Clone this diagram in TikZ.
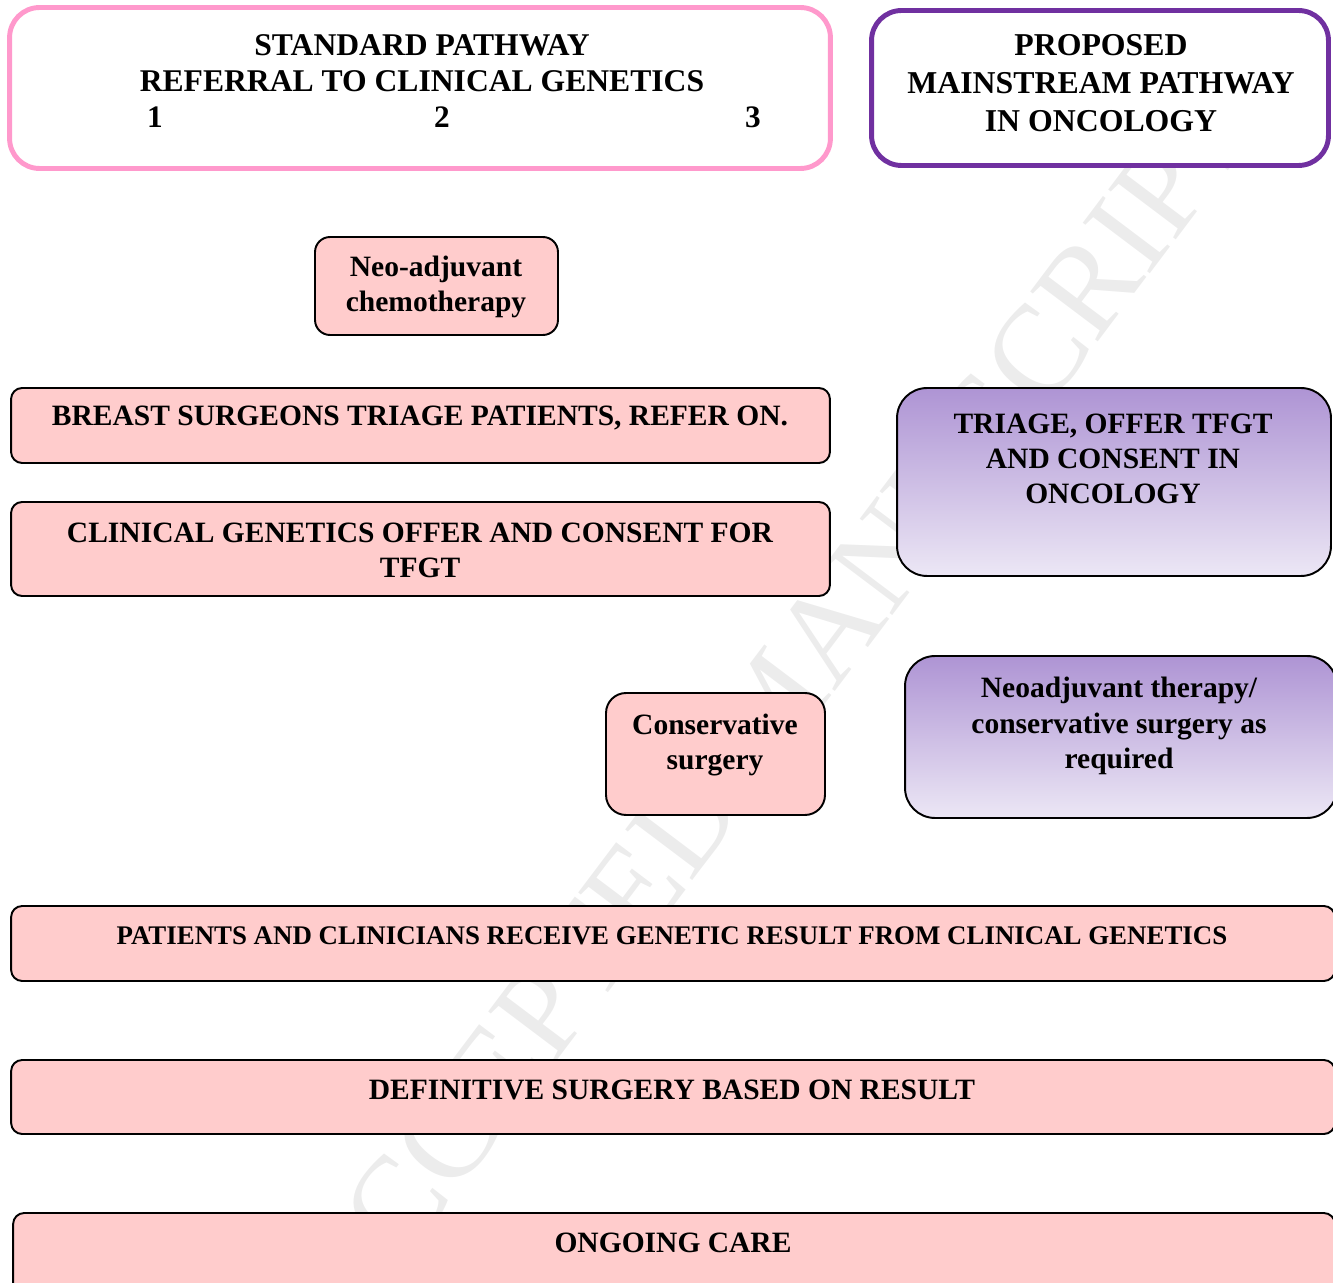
\documentclass[tikz,border=0pt]{standalone}
\usepackage{fontspec}
\setmainfont{Liberation Serif}

\definecolor{boxpink}{RGB}{255,204,204}
\definecolor{edgepink}{RGB}{255,153,204}
\definecolor{edgepurple}{RGB}{112,48,160}
\definecolor{lilactop}{RGB}{174,148,212}
\definecolor{lilacbot}{RGB}{236,231,245}
\definecolor{wmgray}{RGB}{236,236,236}

\begin{document}
\begin{tikzpicture}[x=0.02cm, y=-0.02cm,
    pinkbox/.style={draw=black, line width=1.1pt, fill=boxpink, rounded corners=0.22cm},
    lilacbox/.style={draw=black, line width=1.1pt, top color=lilactop, bottom color=lilacbot, rounded corners=0.6cm},
    headbox/.style={line width=2.8pt, fill=white, rounded corners=0.6cm},
    boxtxt/.style={font=\bfseries\fontsize{16.8}{20}\selectfont, align=center, inner sep=0pt},
    headtxt/.style={font=\bfseries\fontsize{17.8}{21}\selectfont, align=center, inner sep=0pt}]

    \useasboundingbox (0,0) rectangle (1333,1283);

    % watermark, behind everything
    \node[font=\fontsize{73}{73}\selectfont, text=wmgray, rotate=53, inner sep=0pt] (wmark) at (772,706) {ACCEPTED MANUSCRIPT};

    % headers
    \node[headbox, draw=edgepink, minimum width=16.42cm, minimum height=3.22cm] (stdhead) at (420,88) {};
    \node[headbox, draw=edgepurple, minimum width=9.14cm, minimum height=3.1cm] (prophead) at (1100,88) {};
    \node[headtxt, font=\bfseries\fontsize{18}{20.5}\selectfont] (stdtxt) at (422,63) {STANDARD PATHWAY\\REFERRAL TO CLINICAL GENETICS};
    \foreach \n/\x in {1/155,2/442,3/753} {
      \node[headtxt] (num\n) at (\x,117) {\n};
    }
    \node[headtxt, font=\bfseries\fontsize{18.1}{21.6}\selectfont] (proptxt) at (1101,83) {PROPOSED\\MAINSTREAM PATHWAY\\IN ONCOLOGY};

    % standard pathway steps
    \node[pinkbox, rounded corners=0.3cm, minimum width=4.86cm, minimum height=1.96cm] (neo) at (436.5,286) {};
    \node[boxtxt] (neotxt) at (436,287) {Neo-adjuvant\\chemotherapy};

    \node[pinkbox, minimum width=16.38cm, minimum height=1.5cm] (breast) at (420.5,425.5) {};
    \node[boxtxt] (breasttxt) at (420,418) {BREAST SURGEONS TRIAGE PATIENTS, REFER ON.};

    \node[pinkbox, minimum width=16.38cm, minimum height=1.88cm] (cgoffer) at (420.5,549) {};
    \node[boxtxt] (cgoffertxt) at (420,550) {CLINICAL GENETICS OFFER AND CONSENT FOR\\TFGT};

    \node[pinkbox, rounded corners=0.4cm, minimum width=4.38cm, minimum height=2.44cm] (consv) at (715.5,754) {};
    \node[boxtxt] (consvtxt) at (715,745) {Conservative\\surgery};

    % mainstream pathway steps
    \node[lilacbox, minimum width=8.68cm, minimum height=3.76cm] (triage) at (1114,482) {};
    \node[boxtxt] (triagetxt) at (1113,459) {TRIAGE, OFFER TFGT\\AND CONSENT IN\\ONCOLOGY};

    \node[lilacbox, minimum width=8.64cm, minimum height=3.24cm] (neoth) at (1121,737) {};
    \node[boxtxt] (neothtxt) at (1119,726) {Neoadjuvant therapy/\\conservative surgery as\\required};

    % shared steps
    \node[pinkbox, minimum width=26.48cm, minimum height=1.5cm] (results) at (673,943.5) {};
    \node[boxtxt, font=\bfseries\fontsize{15.3}{18}\selectfont] (resultstxt) at (672,936) {PATIENTS AND CLINICIANS RECEIVE GENETIC RESULT FROM CLINICAL GENETICS};

    \node[pinkbox, minimum width=26.48cm, minimum height=1.48cm] (defsurg) at (673,1097) {};
    \node[boxtxt] (defsurgtxt) at (672,1090) {DEFINITIVE SURGERY BASED ON RESULT};

    \node[pinkbox, minimum width=26.44cm, minimum height=1.64cm] (ongoing) at (674,1254) {};
    \node[boxtxt] (ongoingtxt) at (673,1243) {ONGOING CARE};
\end{tikzpicture}
\end{document}
